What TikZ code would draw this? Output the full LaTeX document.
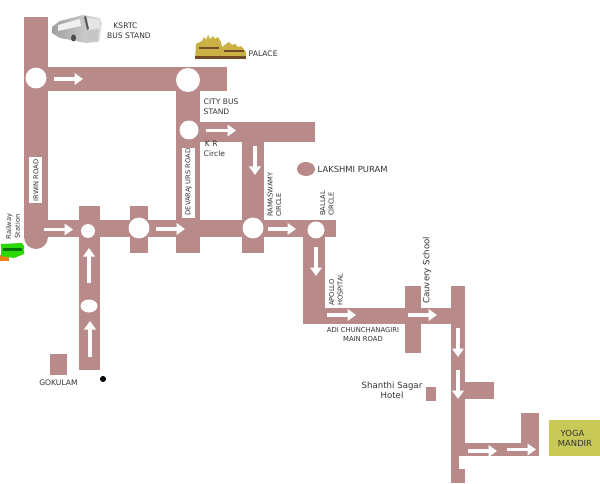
\documentclass[tikz,border=0pt]{standalone}
\usepackage{fontspec}
\setmainfont{DejaVu Sans}
\usetikzlibrary{arrows.meta}
\definecolor{road}{HTML}{B88A8A}
\definecolor{yoga}{HTML}{C9C958}
\definecolor{lbl}{HTML}{333333}
\tikzset{
 road/.style={fill=road,draw=none},
 hole/.style={fill=white,draw=none},
 dirarrow/.style={draw=white,line width=3.6pt,-{Triangle[length=8.5pt,width=11.5pt,fill=white]}},
 lab/.style={inner sep=0pt,text=lbl,font=\fontsize{7.6}{9.6}\selectfont,align=center},
 lableft/.style={lab,align=left,anchor=west},
 vert/.style={lab,rotate=90,font=\fontsize{6.7}{8.6}\selectfont},
}
\begin{document}
\begin{tikzpicture}[x=1pt,y=-1pt]
\useasboundingbox (0,0) rectangle (600,484);
% roads
\fill[road] (24,17) rectangle (48,237);
\fill[road] (36,237) circle[radius=12];
\fill[road] (48,67) rectangle (227,91);
\fill[road] (176,91) rectangle (200,253);
\fill[road] (200,122) rectangle (315,142);
\fill[road] (242,142) rectangle (264,253);
\fill[road] (48,220) rectangle (336,237);
\fill[road] (79,206) rectangle (100,370);
\fill[road] (130,206) rectangle (148,253);
\fill[road] (303,237) rectangle (325,324);
\fill[road] (325,308) rectangle (451,324);
\fill[road] (405,286) rectangle (421,353);
\fill[road] (451,286) rectangle (465,456);
\fill[road] (451,456) rectangle (459,469);
\fill[road] (451,469) rectangle (465,483);
\fill[road] (465,382) rectangle (494,399);
\fill[road] (465,443) rectangle (539,456);
\fill[road] (521,413) rectangle (539,456);
\fill[road] (49.5,354) rectangle (67,375);
\fill[road] (426,387) rectangle (436,401);
\fill[road] (306,169) ellipse[x radius=9,y radius=7];
% circles
\fill[hole] (36,78) circle[radius=10.5];
\fill[hole] (188,80) circle[radius=12];
\fill[hole] (189,130) circle[radius=9.5];
\fill[hole] (88,231) circle[radius=7];
\fill[hole] (139,228) circle[radius=10.5];
\fill[hole] (89,306) ellipse[x radius=8.5,y radius=6.5];
\fill[hole] (253,228) circle[radius=10.5];
\fill[hole] (316,230) circle[radius=8.5];
% arrows
\draw[dirarrow] (54,79) -- (83,79);
\draw[dirarrow] (206,130.5) -- (236,130.5);
\draw[dirarrow] (255,146) -- (255,175);
\draw[dirarrow] (44,229.5) -- (73,229.5);
\draw[dirarrow] (156,229) -- (185,229);
\draw[dirarrow] (268,229) -- (296,229);
\draw[dirarrow] (89,283) -- (89,248);
\draw[dirarrow] (90,357) -- (90,321);
\draw[dirarrow] (316,247) -- (316,276);
\draw[dirarrow] (327,315) -- (356,315);
\draw[dirarrow] (408,315) -- (437,315);
\draw[dirarrow] (458,328) -- (458,357);
\draw[dirarrow] (458,370) -- (458,399);
\draw[dirarrow] (468,451) -- (497,451);
\draw[dirarrow] (507,449.5) -- (536,449.5);
% destination
\fill[yoga] (549,420) rectangle (600,456);
\fill (103,379) circle[radius=3];
% bus
\shade[left color=gray!75,right color=gray!25] (52,27) -- (60,21) -- (83,15) -- (100,18) -- (102,23) -- (99,42) -- (86,43) -- (60,38) -- (52,33) -- cycle;
\fill[gray!20] (84,17) -- (99,20) -- (100,28) -- (87,30) -- cycle;
\fill[black!65] (84,17) -- (86,16) -- (89,29) -- (87,30) -- cycle;
\fill[gray!45] (87,31) -- (99,29) -- (98,41) -- (87,42) -- cycle;
\fill[white!88!gray] (58,25) -- (80,19) -- (81,26) -- (58,31) -- cycle;
\fill[black!70] (73.5,38) ellipse[x radius=2.5,y radius=3.5];
% palace
\fill[yoga!55!brown!90!yellow] (196,44) -- (202,41) -- (204,37) -- (206,40) -- (208,35) -- (210,39) -- (213,36) -- (215,39) -- (218,37) -- (221,42) -- (222,47) -- (226,44) -- (229,42) -- (232,45) -- (235,44) -- (238,47) -- (241,46) -- (246,52) -- (246,59) -- (195,59) -- cycle;
\fill[brown!60!black] (195,56.5) rectangle (246,59);
\fill[brown!60!black] (224,50) rectangle (244,52);
\fill[brown!60!black] (199,47) rectangle (219,49);
% train
\fill[orange!75!brown] (0,255) rectangle (9,261);
\fill[green!80!yellow!85!black] (1,244) -- (22,243) -- (24,246) -- (24,254) -- (14,258) -- (1,256) -- cycle;
\fill[green!45!black] (3,248) rectangle (22,250.5);
% labels
\fill[white] (29,157) rectangle (42,203);
\fill[white] (182,148) rectangle (195,218);
\node[vert] (irwin) at (36,180.5) {IRWIN ROAD};
\node[vert] (devaraj) at (188.5,182) {DEVARAJ URS ROAD};
\node[lab] (ksrtc) at (125.5,26) {KSRTC};
\node[lab] (busstand) at (129,36) {BUS STAND};
\node[lableft] (palace) at (248.5,54) {PALACE};
\node[lableft] (citybus) at (203.5,107) {CITY BUS\\STAND};
\node[lableft] (kr) at (203.5,148.5) {\,K R\\Circle};
\node[lableft,font=\fontsize{8.4}{10}\selectfont] (lakshmi) at (317.5,169) {LAKSHMI PURAM};
\node[vert,align=left,anchor=west] (rama) at (274.5,217) {RAMASWAMY\\CIRCLE};
\node[vert,align=left,anchor=west] (ballal) at (327,216) {BALLAL\\CIRCLE};
\node[vert,align=left,anchor=west] (apollo) at (336,306) {APOLLO\\HOSPITAL};
\node[lab,rotate=90,anchor=west,font=\fontsize{8.6}{11}\selectfont] (cauvery) at (427,304) {Cauvery School};
\node[lab,font=\fontsize{6.8}{9}\selectfont] (adi) at (363,334.5) {ADI CHUNCHANAGIRI\\MAIN ROAD};
\node[lab,font=\fontsize{8.6}{10.3}\selectfont] (shanthi) at (392,390) {Shanthi Sagar\\Hotel};
\node[lab,font=\fontsize{8.4}{10}\selectfont] (yogam) at (572.5,433) {YOGA};
\node[lab,font=\fontsize{8.4}{10}\selectfont] (mandir) at (575,443.5) {MANDIR};
\node[lab] (gokulam) at (58.5,383) {GOKULAM};
\node[vert] (rail) at (13,226.5) {Railway\\Station};
\end{tikzpicture}
\end{document}
